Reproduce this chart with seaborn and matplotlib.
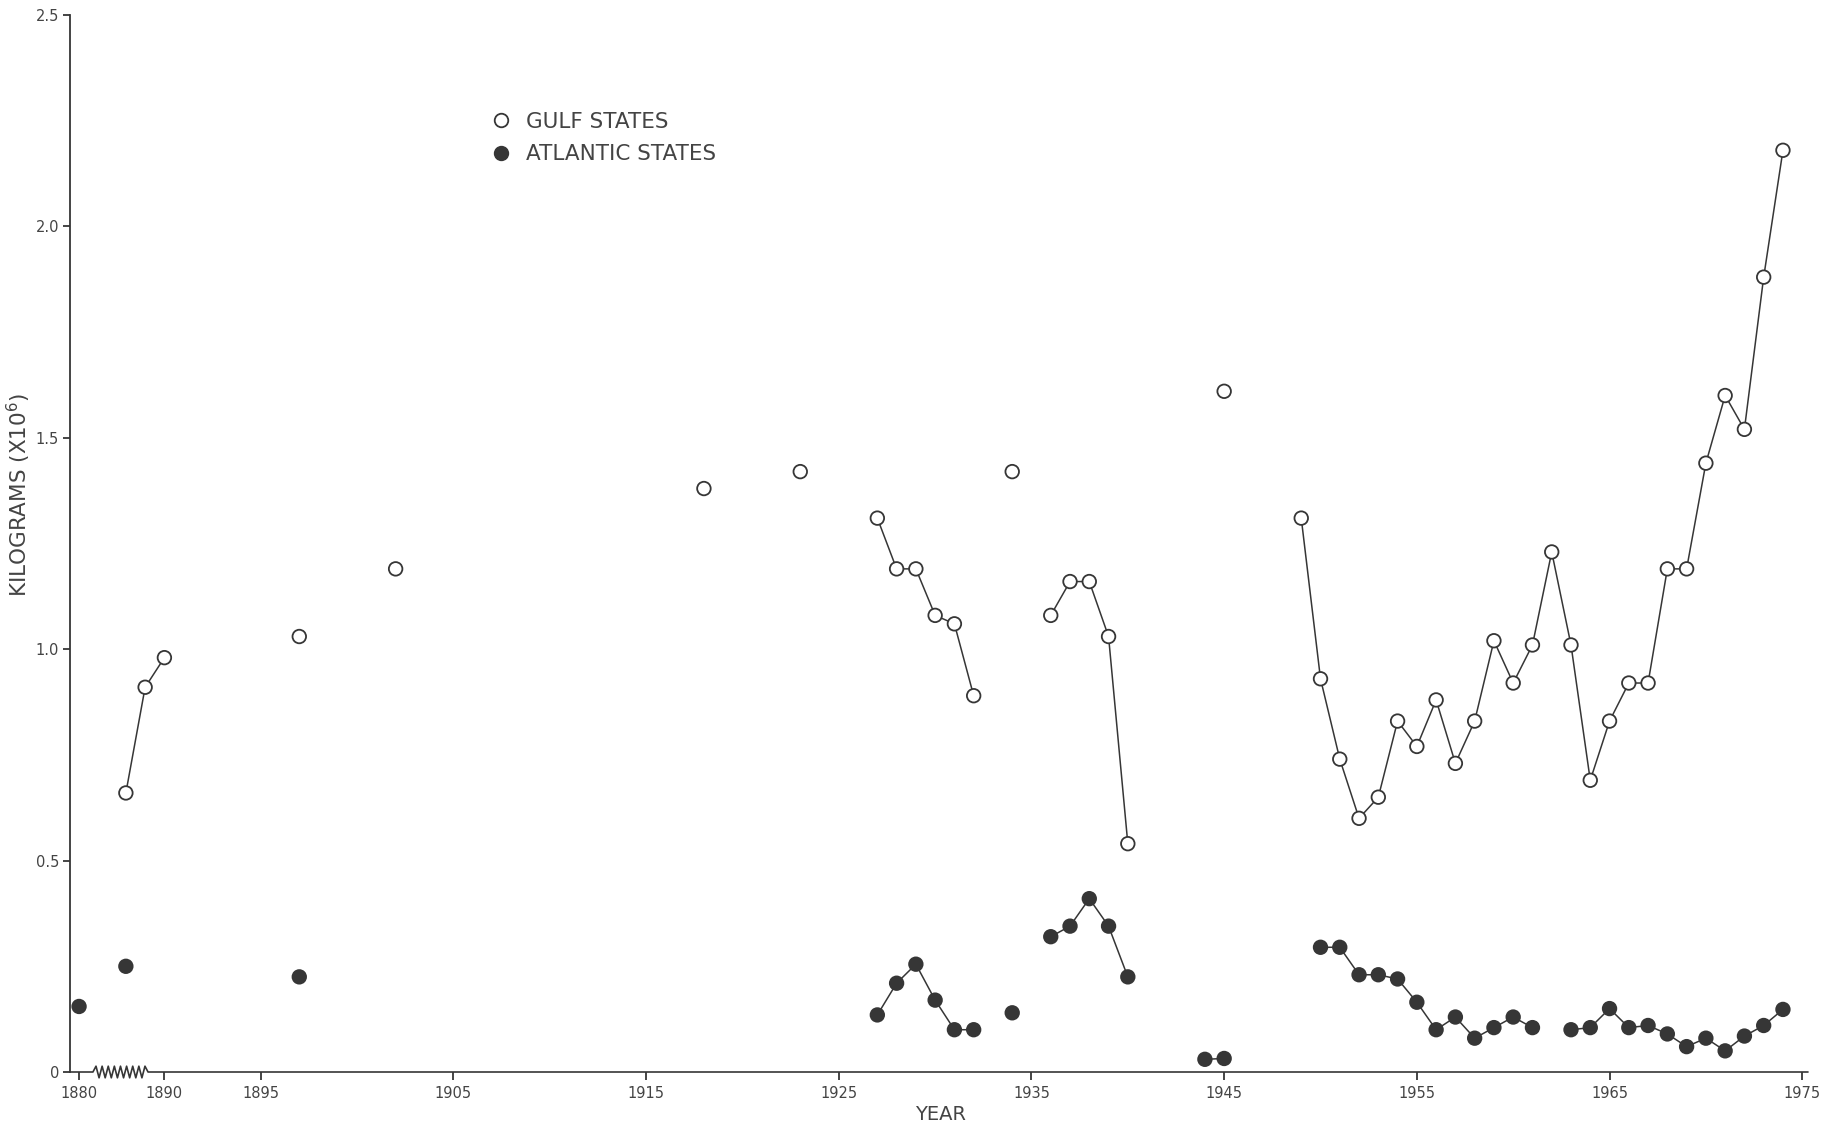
import numpy as np
import pandas as pd
import matplotlib
matplotlib.use("Agg")
import matplotlib.pyplot as plt
import seaborn as sns

# Annual landings, millions of kilograms
GULF_YEARS = [1888, 1889, 1890, 1897, 1902, 1918, 1923,
              1927, 1928, 1929, 1930, 1931, 1932, 1934,
              1936, 1937, 1938, 1939, 1940, 1945,
              1949, 1950, 1951, 1952, 1953, 1954, 1955, 1956, 1957, 1958,
              1959, 1960, 1961, 1962, 1963, 1964, 1965, 1966, 1967, 1968,
              1969, 1970, 1971, 1972, 1973, 1974]
GULF_KG = [0.66, 0.91, 0.98, 1.03, 1.19, 1.38, 1.42,
           1.31, 1.19, 1.19, 1.08, 1.06, 0.89, 1.42,
           1.08, 1.16, 1.16, 1.03, 0.54, 1.61,
           1.31, 0.93, 0.74, 0.60, 0.65, 0.83, 0.77, 0.88, 0.73, 0.83,
           1.02, 0.92, 1.01, 1.23, 1.01, 0.69, 0.83, 0.92, 0.92, 1.19,
           1.19, 1.44, 1.60, 1.52, 1.88, 2.18]

ATL_YEARS = [1880, 1888, 1897,
             1927, 1928, 1929, 1930, 1931, 1932, 1934,
             1936, 1937, 1938, 1939, 1940, 1944, 1945,
             1950, 1951, 1952, 1953, 1954, 1955, 1956, 1957, 1958, 1959,
             1960, 1961,
             1963, 1964, 1965, 1966, 1967, 1968, 1969, 1970, 1971, 1972,
             1973, 1974]
ATL_KG = [0.155, 0.25, 0.225,
          0.135, 0.21, 0.255, 0.17, 0.10, 0.10, 0.14,
          0.32, 0.345, 0.41, 0.345, 0.225, 0.03, 0.032,
          0.295, 0.295, 0.23, 0.23, 0.22, 0.165, 0.10, 0.13, 0.08, 0.105,
          0.13, 0.105,
          0.10, 0.105, 0.15, 0.105, 0.11, 0.09, 0.06, 0.08, 0.05, 0.085,
          0.11, 0.148]

X_TICKS = [1880, 1890, 1895, 1905, 1915, 1925, 1935, 1945, 1955, 1965, 1975]
Y_TICKS = [0, 0.5, 1.0, 1.5, 2.0, 2.5]
Y_TICK_LABELS = ["0", "0.5", "1.0", "1.5", "2.0", "2.5"]

GULF = "GULF STATES"
ATLANTIC = "ATLANTIC STATES"

INK = "#363636"
TEXT = "#444444"


def region_frame(years, kg, name):
    d = pd.DataFrame({"year": years, "kg": kg, "region": name})
    # consecutive years form one connected run
    run = (d["year"].diff() != 1).cumsum()
    d["run"] = name + run.astype(str)
    return d


df = pd.concat([region_frame(GULF_YEARS, GULF_KG, GULF),
                region_frame(ATL_YEARS, ATL_KG, ATLANTIC)],
               ignore_index=True)

sns.set_theme(style="white")
plt.rcParams["font.family"] = ["DejaVu Sans"]

fig = plt.figure(figsize=(18.35, 11.28), dpi=100)
ax = fig.add_axes([70 / 1835, 56 / 1128, 1738 / 1835, 1057 / 1128])

sns.lineplot(data=df, x="year", y="kg", units="run", estimator=None,
             color=INK, linewidth=1.1, legend=False, ax=ax, zorder=2)
sns.scatterplot(data=df, x="year", y="kg", hue="region",
                palette={GULF: "white", ATLANTIC: INK},
                edgecolor=INK, linewidth=1.3, s=95, ax=ax, zorder=3)

# compressed stretch of the time axis before the break
BREAK = 1888.0
SQUEEZE = 0.3036


def fwd(x):
    x = np.asarray(x, dtype=float)
    return np.where(x >= BREAK, x, BREAK - (BREAK - x) * SQUEEZE)


def inv(x):
    x = np.asarray(x, dtype=float)
    return np.where(x >= BREAK, x, BREAK - (BREAK - x) / SQUEEZE)


ax.set_xscale("function", functions=(fwd, inv))
ax.set_xlim(1878.45, 1975.3)
ax.set_ylim(0, 2.5)

ax.set_xticks(X_TICKS)
ax.set_xticklabels([str(t) for t in X_TICKS])
ax.set_yticks(Y_TICKS)
ax.set_yticklabels(Y_TICK_LABELS)
ax.minorticks_off()

ax.tick_params(axis="x", bottom=True, direction="out", length=6, width=1.3,
               color=INK, pad=4, labelsize=10.5, labelcolor=TEXT)
ax.tick_params(axis="y", left=True, direction="out", length=5, width=1.3,
               color=INK, pad=3, labelsize=10.5, labelcolor=TEXT)

for side in ("top", "right", "bottom"):
    ax.spines[side].set_visible(False)
ax.spines["left"].set_color(INK)
ax.spines["left"].set_linewidth(1.3)

# baseline with a zigzag break between 1880 and 1890
zx0, zx1, amp = 0.0132, 0.0449, 0.0055
n = 18
zig_x = np.linspace(zx0, zx1, n + 1)
zig_y = np.array([0.0] + [amp if i % 2 else -amp for i in range(1, n)] + [0.0])
base_x = np.concatenate([[0.0], zig_x, [1.0]])
base_y = np.concatenate([[0.0], zig_y, [0.0]])
ax.plot(base_x, base_y, transform=ax.transAxes, color=INK, lw=1.2,
        clip_on=False, zorder=4)

ax.set_xlabel("YEAR", fontsize=14, color=TEXT)
ax.xaxis.set_label_coords(0.501, -0.031)
ax.set_ylabel("KILOGRAMS (X10$^6$)", fontsize=15.5, color=TEXT)
ax.yaxis.set_label_coords(-0.0215, 0.546)

handles, labels = ax.get_legend_handles_labels()
leg = ax.legend(handles, labels, title=None, frameon=False,
                loc="upper left", bbox_to_anchor=(0.2418, 0.9087),
                borderpad=0, borderaxespad=0, handlelength=1.0,
                handletextpad=0.64, labelspacing=0.6, fontsize=15.5)
for t in leg.get_texts():
    t.set_color(TEXT)

fig.savefig("out.png", dpi=100, facecolor="white")
